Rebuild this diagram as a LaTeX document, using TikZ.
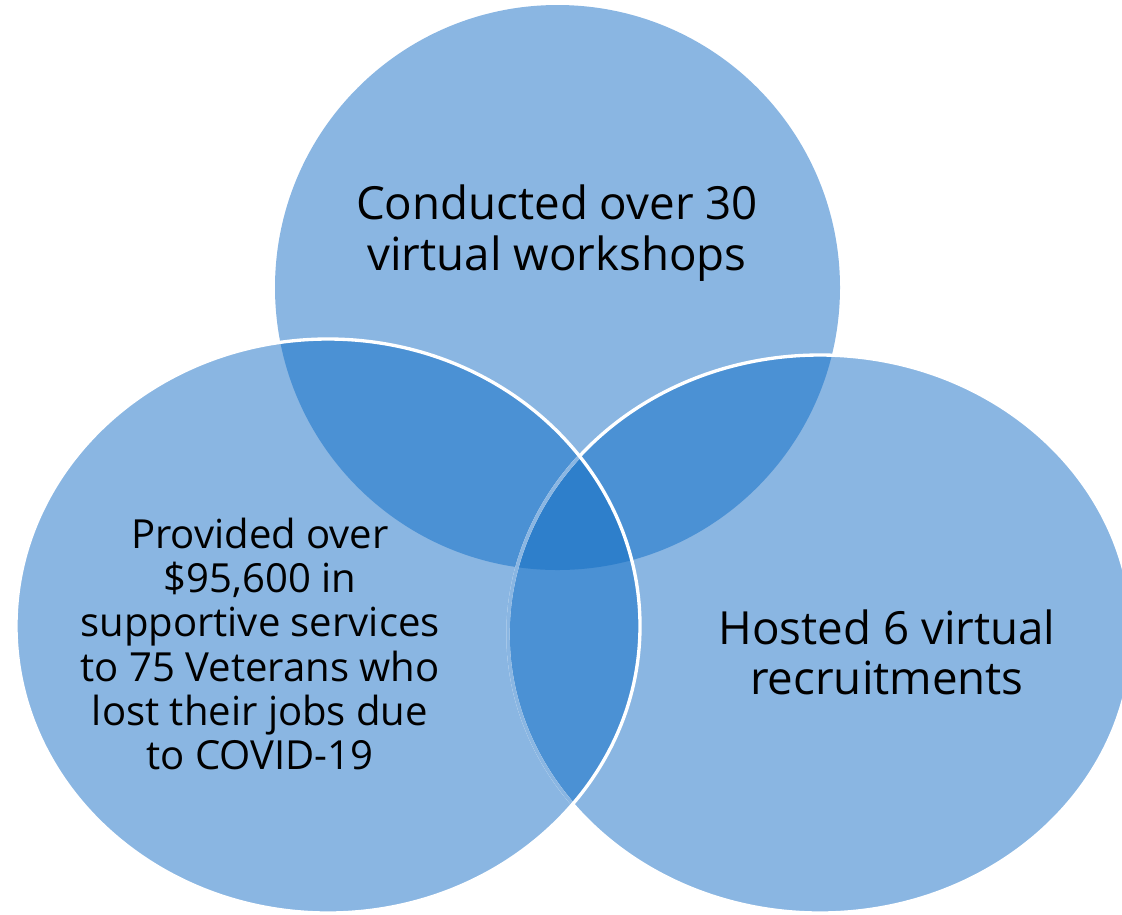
\documentclass[tikz,border=0pt]{standalone}
\usepackage{fontspec}
\setmainfont{Open Sans}
\usetikzlibrary{calc}

\definecolor{vennlight}{HTML}{8AB6E2}
\definecolor{vennmid}{HTML}{4B91D4}
\definecolor{venndark}{HTML}{2E7FCB}

\begin{document}
\begin{tikzpicture}[x=0.02cm,y=-0.02cm,
    venntext/.style={align=center, text=black, inner sep=0pt},
    vennedge/.style={white, line width=1.9pt}]
            % Define the radii of the three sets
            \def\rt{282.5}  % radius of top circle
            \def\rxl{312}   % x radius of left ellipse
            \def\ryl{287}   % y radius of left ellipse
            \def\rxr{312}   % x radius of right ellipse
            \def\ryr{279}   % y radius of right ellipse

            \useasboundingbox (0,0) rectangle (1122,914);

            % Centres of the sets
            \coordinate (Ctop) at (557.5,287.5);
            \coordinate (Cleft) at (328,626);
            \coordinate (Cright) at (820,634);

            % Draw the three sets
            \fill[vennlight] (Ctop) circle (\rt);
            \fill[vennlight] (Cright) ellipse [x radius=\rxr, y radius=\ryr];
            \fill[vennlight] (Cleft) ellipse [x radius=\rxl, y radius=\ryl];

            % Draw the pairwise overlaps
            \begin{scope}
                \clip (Ctop) circle (\rt);
                \fill[vennmid] (Cleft) ellipse [x radius=\rxl, y radius=\ryl];
                \fill[vennmid] (Cright) ellipse [x radius=\rxr, y radius=\ryr];
            \end{scope}
            \begin{scope}
                \clip (Cleft) ellipse [x radius=\rxl, y radius=\ryl];
                \fill[vennmid] (Cright) ellipse [x radius=\rxr, y radius=\ryr];
            \end{scope}

            % Draw the centre overlap
            \begin{scope}
                \clip (Ctop) circle (\rt);
                \clip (Cleft) ellipse [x radius=\rxl, y radius=\ryl];
                \fill[venndark] (Cright) ellipse [x radius=\rxr, y radius=\ryr];
            \end{scope}

            % Draw white borders
            \draw[vennedge] (Cright) ellipse [x radius=\rxr, y radius=\ryr];
            \begin{scope}
                \clip (Cleft) ellipse [x radius=\rxl, y radius=\ryl];
                \draw[vennlight, line width=1.9pt] (Cright) ellipse [x radius=\rxr, y radius=\ryr];
            \end{scope}
            \draw[vennedge] (Cleft) ellipse [x radius=\rxl, y radius=\ryl];

            % Labels of the sets
            \node[venntext, font=\fontsize{26}{29}\selectfont] (workshops) at (557,233)
                {Conducted over 30\\virtual workshops};
            \node[venntext, font=\fontsize{22.8}{25.2}\selectfont] (services) at (260,644)
                {Provided over\\\$95,600 in\\supportive services\\to 75 Veterans who\\lost their jobs due\\to COVID-19};
            \node[venntext, font=\fontsize{26}{28.4}\selectfont] (recruit) at (887,652)
                {Hosted 6 virtual\\recruitments};
        \end{tikzpicture}
\end{document}
